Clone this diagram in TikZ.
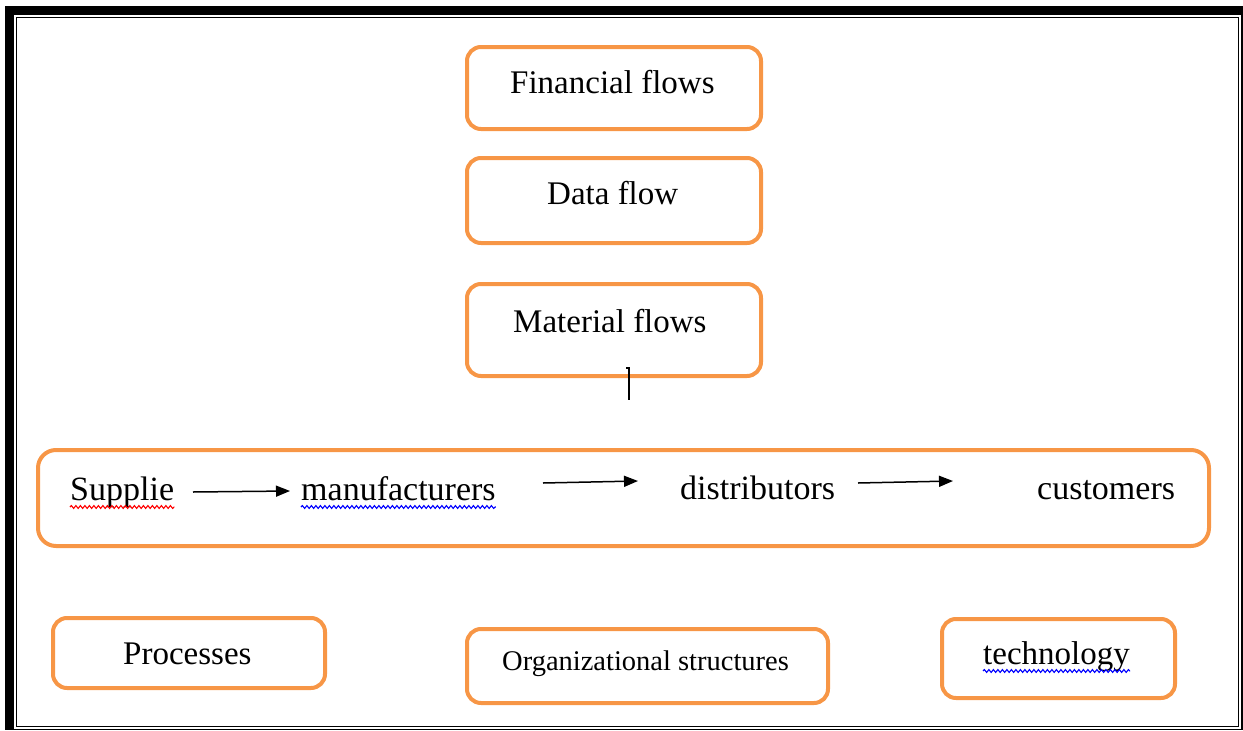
\documentclass[tikz,border=0pt]{standalone}
\usepackage{fontspec}
\setmainfont{Liberation Serif}
\usetikzlibrary{arrows.meta,decorations.pathmorphing}
\definecolor{orng}{HTML}{F79646}
\tikzset{
  box/.style={draw=orng, line width=4pt, rounded corners=14pt, inner sep=0pt},
  lbl/.style={anchor=base west, inner sep=0pt, font=\fontsize{33}{40}\selectfont},
  clbl/.style={anchor=base west, inner sep=0pt, font=\fontsize{34}{41}\selectfont},
  slbl/.style={anchor=base west, inner sep=0pt, font=\fontsize{28.5}{34}\selectfont},
  flowarrow/.style={line width=1.5pt, -{Triangle[length=14pt,width=11pt]}},
  wavy/.style={line width=1.1pt, decorate, decoration={snake, amplitude=1.4pt, segment length=4.5pt}},
  frame/.style={line width=1.6pt, draw=black}
}
\begin{document}
\begin{tikzpicture}[x=1pt,y=-1pt]
\useasboundingbox (0,0) rectangle (1243,731);
% page frame
\fill[black] (5,6) rectangle (1243,15);
\fill[black] (5,6) rectangle (14,730);
\draw[frame] (1241.8,15) -- (1241.8,729.6) -- (5,729.6);
\draw[frame] (16.5,17.5) rectangle (1238.3,726.6);
% top boxes
\node[box, minimum width=294pt, minimum height=82pt] (fin) at (614,88) {};
\node[box, minimum width=294pt, minimum height=85pt] (dat) at (614,200.5) {};
\node[box, minimum width=294pt, minimum height=92pt] (mat) at (614,330) {};
\node[lbl] (fint) at (510,93) {Financial flows};
\node[lbl] (datt) at (547,204) {Data flow};
\node[lbl] (matt) at (513,332) {Material flows};
% cursor mark
\draw[line width=1.5pt] (626,368) -- (629,368) -- (629,400);
% chain box
\node[box, rounded corners=18pt, minimum width=1171pt, minimum height=96pt] (chain) at (623.5,498) {};
\node[clbl] (sup) at (70,500) {Supplie};
\node[clbl] (man) at (301,500) {manufacturers};
\node[clbl] (dis) at (680,499) {distributors};
\node[clbl] (cus) at (1037,499) {customers};
\coordinate (a1s) at (193,492);
\coordinate (a1e) at (290,491);
\coordinate (a2s) at (543,483);
\coordinate (a2e) at (638,481);
\coordinate (a3s) at (858,483);
\coordinate (a3e) at (953,481);
\draw[flowarrow] (a1s) -- (a1e);
\draw[flowarrow] (a2s) -- (a2e);
\draw[flowarrow] (a3s) -- (a3e);
\draw[wavy, red] ([yshift=-7pt]sup.base west) -- ([yshift=-7pt]sup.base east);
\draw[wavy, blue] ([yshift=-7pt]man.base west) -- ([yshift=-7pt]man.base east);
% bottom boxes
\node[box, minimum width=272pt, minimum height=70pt] (pro) at (189,653) {};
\node[box, minimum width=361pt, minimum height=74pt] (org) at (647.5,666) {};
\node[box, minimum width=233pt, minimum height=79pt] (tec) at (1058.5,658.5) {};
\node[lbl] (prot) at (123,664) {Processes};
\node[slbl] (orgt) at (502,670) {Organizational structures};
\node[lbl] (tect) at (983,664) {technology};
\draw[wavy, blue] ([yshift=-7pt]tect.base west) -- ([yshift=-7pt]tect.base east);
\end{tikzpicture}
\end{document}
